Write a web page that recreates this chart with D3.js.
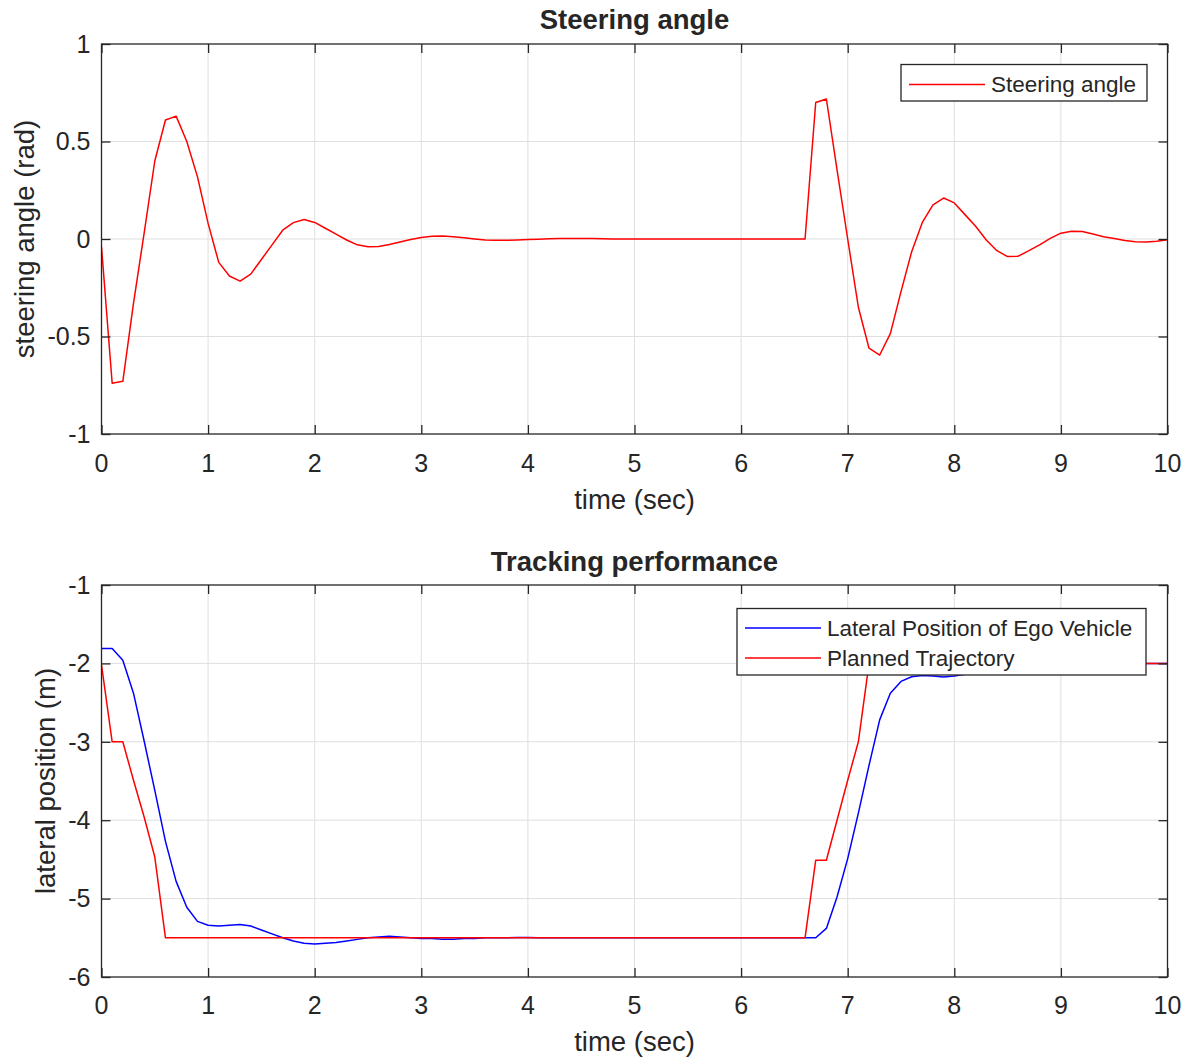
<!DOCTYPE html>
<html>
<head>
<meta charset="utf-8">
<script src="https://cdn.jsdelivr.net/npm/d3@7"></script>
<style>
  html, body { margin: 0; padding: 0; background: #fff; }
  svg { display: block; }
  text { font-family: "Liberation Sans", Arial, Helvetica, sans-serif; fill: #262626; }
</style>
</head>
<body>
<svg id="chart" width="1186" height="1059"></svg>
<script>
// ---------------- DATA ----------------
const timeTicks = [0, 1, 2, 3, 4, 5, 6, 7, 8, 9, 10];
const steerTicks = [-1, -0.5, 0, 0.5, 1];
const lateralTicks = [-6, -5, -4, -3, -2, -1];

// sample times 0.0 .. 10.0 step 0.1
const sampleTimes = d3.range(0, 101).map(i => +(i / 10).toFixed(1));

// Steering angle (rad)
const steeringAngle = [
  -0.04, -0.74, -0.73, -0.33, 0.03, 0.40, 0.61, 0.63, 0.50, 0.32,
   0.08, -0.12, -0.19, -0.216, -0.18, -0.105, -0.03, 0.045, 0.084, 0.10,
   0.085, 0.055, 0.025, -0.005, -0.03, -0.04, -0.038, -0.028, -0.015, -0.003,
   0.008, 0.014, 0.015, 0.012, 0.006, 0.0, -0.005, -0.007, -0.007, -0.005,
  -0.003, -0.001, 0.001, 0.002, 0.003, 0.003, 0.002, 0.001, 0.0, 0.0,
   0.0, 0.0, 0.0, 0.0, 0.0, 0.0, 0.0, 0.0, 0.0, 0.0,
   0.0, 0.0, 0.0, 0.0, 0.0, 0.0, 0.0, 0.70, 0.718, 0.355,
   0.0, -0.35, -0.56, -0.595, -0.485, -0.27, -0.065, 0.085, 0.175, 0.21,
   0.185, 0.125, 0.065, -0.005, -0.06, -0.09, -0.088, -0.06, -0.03, 0.003,
   0.03, 0.04, 0.038, 0.026, 0.012, 0.002, -0.008, -0.014, -0.015, -0.012,
  -0.004
];

// Lateral position of ego vehicle (m)
const lateralEgo = [
  -1.81, -1.81, -1.96, -2.38, -2.99, -3.62, -4.27, -4.78, -5.11, -5.29,
  -5.34, -5.35, -5.34, -5.33, -5.35, -5.40, -5.45, -5.50, -5.54, -5.57,
  -5.58, -5.57, -5.56, -5.54, -5.52, -5.50, -5.49, -5.48, -5.49, -5.50,
  -5.51, -5.51, -5.52, -5.52, -5.51, -5.51, -5.50, -5.50, -5.50, -5.495,
  -5.495, -5.50, -5.50, -5.50, -5.50, -5.50, -5.50, -5.50, -5.50, -5.50,
  -5.50, -5.50, -5.50, -5.50, -5.50, -5.50, -5.50, -5.50, -5.50, -5.50,
  -5.50, -5.50, -5.50, -5.50, -5.50, -5.50, -5.50, -5.50, -5.38, -4.98,
  -4.49, -3.91, -3.30, -2.72, -2.38, -2.23, -2.17, -2.155, -2.16, -2.175,
  -2.16, -2.14, -2.12, -2.10, -2.09, -2.07, -2.06, -2.05, -2.04, -2.03,
  -2.02, -2.02, -2.01, -2.01, -2.005, -2.0, -2.0, -2.0, -2.0, -2.0,
  -2.0
];

// Planned trajectory (m)
const plannedTrajectory = [
  -2.02, -3.0, -3.0, -3.49, -3.96, -4.47, -5.5, -5.5, -5.5, -5.5,
  -5.5, -5.5, -5.5, -5.5, -5.5, -5.5, -5.5, -5.5, -5.5, -5.5,
  -5.5, -5.5, -5.5, -5.5, -5.5, -5.5, -5.5, -5.5, -5.5, -5.5,
  -5.5, -5.5, -5.5, -5.5, -5.5, -5.5, -5.5, -5.5, -5.5, -5.5,
  -5.5, -5.5, -5.5, -5.5, -5.5, -5.5, -5.5, -5.5, -5.5, -5.5,
  -5.5, -5.5, -5.5, -5.5, -5.5, -5.5, -5.5, -5.5, -5.5, -5.5,
  -5.5, -5.5, -5.5, -5.5, -5.5, -5.5, -5.5, -4.51, -4.51, -4.0,
  -3.49, -3.0, -2.0, -2.0, -2.0, -2.0, -2.0, -2.0, -2.0, -2.0,
  -2.0, -2.0, -2.0, -2.0, -2.0, -2.0, -2.0, -2.0, -2.0, -2.0,
  -2.0, -2.0, -2.0, -2.0, -2.0, -2.0, -2.0, -2.0, -2.0, -2.0,
  -2.0
];

// ---------------- DRAWING ----------------
const svg = d3.select("#chart");
const AX = "#262626";
const GRID = "#dfdfdf";
const left = 101.5, right = 1167.5;
const TICK_FS = 25, LABEL_FS = 27.5, TITLE_FS = 27.5, LEG_FS = 22.5;

function panel(cfg) {
  const { top, bottom, yDomain, yTicks, title, ylabel, ylabelX, xlabelY, tickY, titleY, id } = cfg;
  const x = d3.scaleLinear().domain([0, 10]).range([left, right]);
  const y = d3.scaleLinear().domain(yDomain).range([bottom, top]);
  const g = svg.append("g");

  // grid
  g.append("g").selectAll("line.vg").data(timeTicks.slice(1, -1)).join("line")
    .attr("x1", d => x(d)).attr("x2", d => x(d)).attr("y1", top).attr("y2", bottom)
    .attr("stroke", GRID).attr("stroke-width", 1);
  g.append("g").selectAll("line.hg").data(yTicks.slice(1, -1)).join("line")
    .attr("y1", d => y(d)).attr("y2", d => y(d)).attr("x1", left).attr("x2", right)
    .attr("stroke", GRID).attr("stroke-width", 1);

  // clip
  svg.append("clipPath").attr("id", "clip" + id).append("rect")
    .attr("x", left).attr("y", top).attr("width", right - left).attr("height", bottom - top);

  const lineGen = d3.line().x((d, i) => x(sampleTimes[i])).y(d => y(d));
  const plot = g.append("g").attr("clip-path", `url(#clip${id})`);
  cfg.series.forEach(s => {
    plot.append("path").datum(s.values).attr("d", lineGen)
      .attr("fill", "none").attr("stroke", s.color).attr("stroke-width", 1.5)
      .attr("stroke-linejoin", "round");
  });

  // axes using d3 axis (inward ticks, all four sides)
  const tl = 9;
  const xb = d3.axisBottom(x).tickValues(timeTicks).tickSize(-tl).tickFormat("");
  const xt = d3.axisTop(x).tickValues(timeTicks).tickSize(-tl).tickFormat("");
  const yl = d3.axisLeft(y).tickValues(yTicks).tickSize(-tl).tickFormat("");
  const yr = d3.axisRight(y).tickValues(yTicks).tickSize(-tl).tickFormat("");
  [[xb, `translate(0,${bottom})`], [xt, `translate(0,${top})`],
   [yl, `translate(${left},0)`], [yr, `translate(${right},0)`]].forEach(([a, t]) => {
    const ag = g.append("g").attr("transform", t).call(a);
    ag.select(".domain").remove();
    ag.selectAll("line").attr("stroke", AX).attr("stroke-width", 1.3);
  });
  g.append("rect").attr("x", left).attr("y", top).attr("width", right - left).attr("height", bottom - top)
    .attr("fill", "none").attr("stroke", AX).attr("stroke-width", 1.3);

  // tick labels
  g.append("g").selectAll("text").data(timeTicks).join("text")
    .attr("x", d => x(d)).attr("y", tickY).attr("text-anchor", "middle")
    .attr("font-size", TICK_FS).text(d => d3.format("")(d));
  g.append("g").selectAll("text").data(yTicks).join("text")
    .attr("x", left - 11).attr("y", d => y(d)).attr("dy", "0.35em").attr("text-anchor", "end")
    .attr("font-size", TICK_FS).text(d => d3.format("")(d).replace("−", "-"));

  // labels
  g.append("text").attr("x", (left + right) / 2).attr("y", xlabelY).attr("text-anchor", "middle")
    .attr("font-size", LABEL_FS).text("time (sec)");
  g.append("text").attr("transform", `translate(${ylabelX},${(top + bottom) / 2}) rotate(-90)`)
    .attr("text-anchor", "middle").attr("font-size", LABEL_FS).text(ylabel);
  g.append("text").attr("x", (left + right) / 2).attr("y", titleY).attr("text-anchor", "middle")
    .attr("font-size", TITLE_FS).attr("font-weight", "bold").attr("fill", "#000").text(title);

  // legend
  const L = cfg.legend;
  const lg = g.append("g");
  lg.append("rect").attr("x", L.x).attr("y", L.y).attr("width", L.w).attr("height", L.h)
    .attr("fill", "#fff").attr("stroke", AX).attr("stroke-width", 1.3);
  cfg.series.forEach((s, i) => {
    const cy = L.y + L.firstRow + i * L.rowGap;
    lg.append("line").attr("x1", L.x + 8).attr("x2", L.x + 84).attr("y1", cy).attr("y2", cy)
      .attr("stroke", s.color).attr("stroke-width", 1.5);
    lg.append("text").attr("x", L.x + 90).attr("y", cy).attr("dy", "0.35em")
      .attr("font-size", LEG_FS).attr("fill", "#000").text(s.name);
  });
}

panel({
  id: 1, top: 44, bottom: 434, yDomain: [-1, 1], yTicks: steerTicks,
  title: "Steering angle", ylabel: "steering angle (rad)", ylabelX: 34,
  xlabelY: 509, tickY: 472, titleY: 29,
  series: [{ name: "Steering angle", values: steeringAngle, color: "#ff0000" }],
  legend: { x: 901, y: 64.5, w: 246, h: 36.5, firstRow: 20, rowGap: 30 }
});

panel({
  id: 2, top: 585, bottom: 977, yDomain: [-6, -1], yTicks: lateralTicks,
  title: "Tracking performance", ylabel: "lateral position (m)", ylabelX: 55,
  xlabelY: 1051, tickY: 1014, titleY: 571,
  series: [
    { name: "Lateral Position of Ego Vehicle", values: lateralEgo, color: "#0000ff" },
    { name: "Planned Trajectory", values: plannedTrajectory, color: "#ff0000" }
  ],
  legend: { x: 737, y: 608.5, w: 409, h: 66.5, firstRow: 19.5, rowGap: 30 }
});
</script>
</body>
</html>
